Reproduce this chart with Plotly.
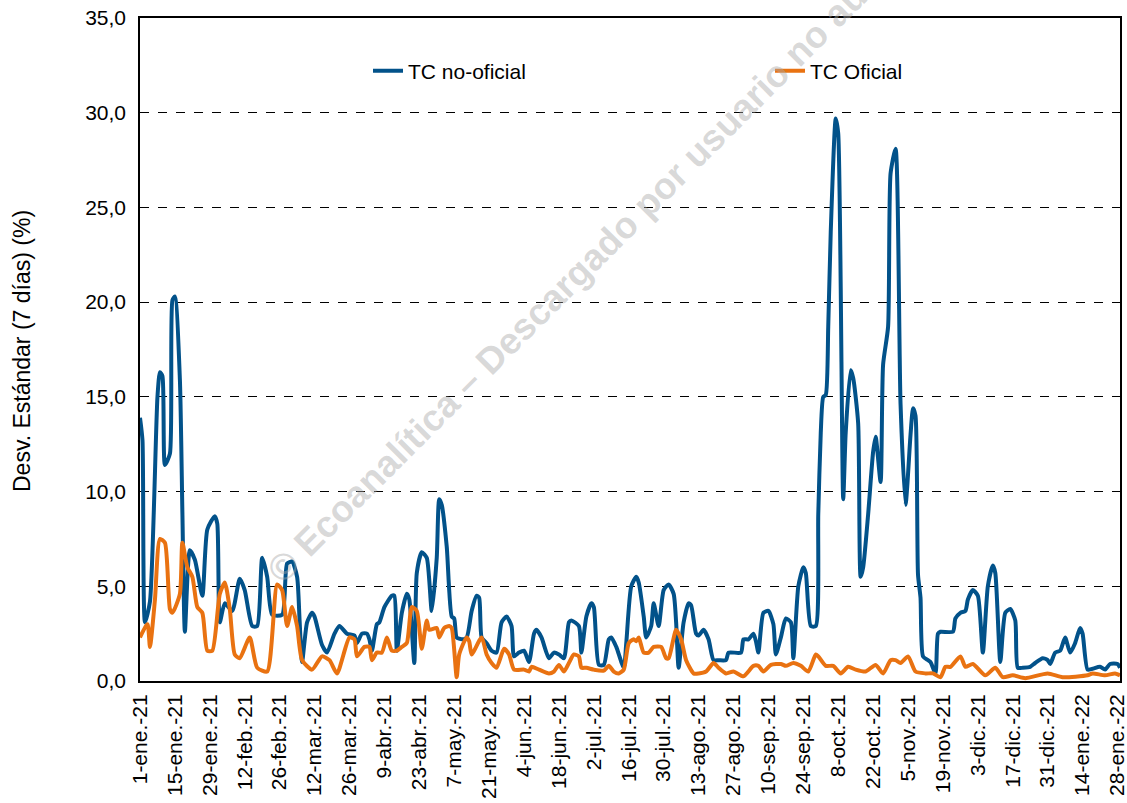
import pandas as pd
import plotly.graph_objects as go

# ---- data (days since 1-ene-2021, values in %) ----
blue_day = [0, 1, 2, 4, 7, 8, 9, 10, 12, 13, 14, 16, 17, 18, 20, 22, 25, 27, 30, 31, 32, 34, 37, 40, 42, 45, 47,
            49, 51, 53, 57, 59, 61, 63, 64, 65, 67, 69, 70, 73, 75, 78, 80, 83, 86, 87, 89, 91, 92, 93, 95, 96, 98,
            101, 102, 103, 105, 107, 108, 110, 111, 113, 115, 117, 119, 120, 121, 123, 125, 126, 127, 129, 131, 133,
            135, 136, 137, 139, 141, 143, 145, 147, 149, 150, 152, 154, 156, 158, 159, 161, 164, 166, 168, 170, 172,
            173, 176, 177, 179, 181, 182, 184, 186, 188, 189, 191, 194, 195, 197, 199, 200, 202, 203, 205, 206, 208,
            210, 212, 214, 215, 216, 218, 220, 221, 223, 224, 226, 228, 230, 232, 235, 236, 241, 242, 244, 246, 247,
            248, 250, 252, 254, 255, 257, 259, 261, 262, 264, 266, 267, 269, 271, 272, 273, 274, 275, 276, 277, 279,
            280, 282, 283, 285, 286, 288, 289, 290, 292, 294, 295, 297, 298, 300, 301, 303, 305, 307, 309, 310, 311,
            312, 313, 314, 316, 317, 319, 320, 321, 326, 327, 329, 331, 332, 334, 336, 338, 340, 342, 343, 345, 347,
            349, 351, 352, 354, 357, 359, 362, 364, 365, 367, 369, 371, 373, 375, 377, 378, 380, 382, 385, 387, 389,
            392, 393]
blue_val = [13.9, 12.7, 3.1, 4.2, 15.0, 16.3, 16.1, 11.4, 12.0, 20.1, 20.3, 15.9, 8.9, 2.6, 6.9, 6.4, 4.5, 8.0, 8.7,
            8.3, 3.1, 4.1, 3.7, 5.4, 4.8, 2.9, 2.9, 6.5, 5.5, 3.5, 3.5, 6.2, 6.3, 5.5, 3.2, 1.0, 3.1, 3.6, 3.4, 1.9,
            1.5, 2.5, 2.9, 2.5, 2.4, 2.0, 2.5, 2.5, 2.2, 1.6, 3.0, 3.1, 3.9, 4.5, 4.5, 1.6, 3.6, 4.6, 4.3, 0.95, 5.7,
            6.8, 6.5, 3.7, 6.5, 9.6, 9.3, 7.1, 3.4, 3.3, 2.3, 2.2, 2.3, 3.7, 4.5, 4.4, 2.3, 2.0, 1.6, 1.5, 3.1, 3.4,
            2.9, 1.3, 1.5, 1.6, 1.0, 2.5, 2.7, 2.3, 1.2, 1.5, 1.4, 1.2, 3.1, 3.2, 2.9, 1.5, 3.4, 4.1, 3.9, 0.85, 0.85,
            2.2, 2.3, 1.8, 0.7, 2.0, 5.0, 5.5, 5.2, 3.4, 2.3, 2.9, 4.1, 2.9, 4.8, 5.1, 4.6, 3.1, 0.7, 3.1, 4.1, 4.0,
            2.5, 2.4, 2.7, 2.2, 1.1, 1.1, 1.1, 1.5, 1.5, 2.2, 2.2, 2.5, 2.1, 1.5, 3.6, 3.7, 3.0, 1.4, 2.3, 3.3, 3.1,
            1.2, 5.0, 6.0, 5.7, 2.9, 2.9, 8.8, 13.1, 15.0, 15.1, 18.7, 23.7, 29.7, 28.9, 9.6, 13.1, 16.4, 16.0, 13.6,
            5.5, 6.0, 8.8, 12.1, 12.9, 10.5, 16.7, 18.7, 26.8, 28.1, 14.6, 9.3, 13.0, 14.4, 14.0, 5.6, 4.4, 1.3, 1.1,
            1.0, 0.4, 2.5, 2.6, 2.6, 3.3, 3.6, 3.7, 4.3, 4.8, 4.5, 1.5, 5.0, 6.1, 5.7, 1.0, 3.6, 3.8, 3.2, 0.7, 0.7,
            0.75, 0.95, 1.2, 1.1, 0.9, 1.5, 1.6, 2.3, 1.5, 2.0, 2.8, 2.5, 0.6, 0.65, 0.75, 0.6, 0.9, 0.9, 0.7]

orange_day = [0, 3, 4, 6, 8, 10, 12, 13, 16, 17, 19, 21, 23, 25, 27, 29, 32, 34, 36, 38, 40, 44, 47, 51, 55, 57, 59,
              61, 63, 65, 69, 73, 76, 79, 84, 86, 87, 90, 92, 93, 95, 97, 99, 101, 103, 105, 107, 109, 111, 113, 115,
              116, 119, 120, 122, 124, 125, 127, 128, 131, 132, 133, 137, 139, 141, 143, 146, 148, 150, 154, 156,
              157, 160, 164, 166, 168, 170, 172, 174, 176, 177, 179, 182, 186, 188, 190, 192, 194, 196, 198, 199,
              200, 202, 204, 206, 209, 211, 212, 215, 217, 219, 222, 224, 227, 230, 232, 235, 238, 242, 246, 248,
              250, 253, 257, 259, 262, 265, 268, 271, 272, 275, 278, 281, 284, 287, 291, 295, 298, 301, 303, 305,
              308, 311, 315, 318, 321, 323, 325, 329, 331, 334, 339, 343, 346, 350, 355, 364, 370, 380, 382, 387,
              391, 393]
orange_val = [2.3, 3.0, 1.8, 4.3, 7.5, 7.3, 3.8, 3.6, 4.6, 7.3, 6.0, 5.5, 3.9, 3.6, 1.6, 1.6, 4.6, 5.2, 3.8, 1.4,
              1.2, 2.3, 0.7, 0.5, 5.1, 4.8, 2.9, 3.9, 2.9, 1.1, 0.6, 1.3, 1.1, 0.4, 2.3, 2.2, 1.3, 1.8, 1.8, 1.1, 1.5,
              1.5, 2.3, 1.6, 1.6, 1.8, 2.0, 3.9, 3.7, 1.7, 3.2, 2.7, 2.8, 2.3, 2.8, 2.9, 2.8, 0.2, 1.4, 2.3, 2.1, 1.4,
              2.3, 1.4, 0.95, 0.7, 1.7, 1.4, 0.6, 0.6, 0.5, 0.75, 0.6, 0.4, 0.5, 0.85, 0.5, 0.95, 1.4, 1.3, 0.7, 0.7,
              0.6, 0.55, 0.8, 0.5, 0.4, 0.6, 2.0, 2.2, 2.1, 2.3, 1.5, 1.5, 1.8, 1.8, 1.2, 1.2, 2.7, 2.2, 1.1, 0.4,
              0.4, 0.5, 0.95, 0.7, 0.4, 0.5, 0.25, 0.8, 0.8, 0.5, 0.85, 0.9, 0.8, 0.95, 0.8, 0.5, 1.4, 1.3, 0.8, 0.8,
              0.4, 0.75, 0.6, 0.5, 0.85, 0.4, 1.1, 1.1, 0.95, 1.3, 0.5, 0.4, 0.4, 0.2, 0.75, 0.75, 1.3, 0.75, 0.9,
              0.3, 0.7, 0.2, 0.3, 0.15, 0.4, 0.2, 0.3, 0.4, 0.3, 0.4, 0.3]

tick_days = list(range(0, 393, 14))
tick_labels = ["1-ene.-21", "15-ene.-21", "29-ene.-21", "12-feb.-21", "26-feb.-21", "12-mar.-21", "26-mar.-21",
               "9-abr.-21", "23-abr.-21", "7-may.-21", "21-may.-21", "4-jun.-21", "18-jun.-21", "2-jul.-21",
               "16-jul.-21", "30-jul.-21", "13-ago.-21", "27-ago.-21", "10-sep.-21", "24-sep.-21", "8-oct.-21",
               "22-oct.-21", "5-nov.-21", "19-nov.-21", "3-dic.-21", "17-dic.-21", "31-dic.-21", "14-ene.-22",
               "28-ene.-22"]
y_ticks = [0, 5, 10, 15, 20, 25, 30, 35]
y_labels = ["0,0", "5,0", "10,0", "15,0", "20,0", "25,0", "30,0", "35,0"]

base = pd.Timestamp("2021-01-01")
to_date = lambda days: [base + pd.Timedelta(days=d) for d in days]

FONT = "Liberation Sans, Arial, sans-serif"
FS = 21
fig = go.Figure()
fig.add_trace(go.Scatter(x=to_date(blue_day), y=blue_val, mode="lines", name="TC no-oficial",
                         line=dict(color="#02528A", width=4, shape="spline", smoothing=0.6), legend="legend"))
fig.add_trace(go.Scatter(x=to_date(orange_day), y=orange_val, mode="lines", name="TC Oficial",
                         line=dict(color="#E97211", width=4, shape="spline", smoothing=0.6), legend="legend2"))

fig.update_layout(
    width=1127, height=803,
    margin=dict(l=140, r=7, t=18, b=122, autoexpand=False),
    paper_bgcolor="white", plot_bgcolor="white",
    font=dict(family=FONT, size=FS, color="black"),
    showlegend=True,
    legend=dict(x=(368 - 140) / 980, y=(681 - 71) / 663, xanchor="left", yanchor="middle",
                bgcolor="rgba(0,0,0,0)", font=dict(size=FS)),
    legend2=dict(x=(770 - 140) / 980, y=(681 - 71) / 663, xanchor="left", yanchor="middle",
                 bgcolor="rgba(0,0,0,0)", font=dict(size=FS)),
)
fig.update_xaxes(
    range=[base, base + pd.Timedelta(days=393)], automargin=False,
    tickvals=to_date(tick_days), ticktext=tick_labels, tickangle=-90,
    showgrid=False, showline=True, linecolor="black", linewidth=2, mirror=True,
    ticks="", tickfont=dict(size=FS), ticklabelstandoff=3, ticklabeloverflow="allow",
)
fig.update_yaxes(
    range=[0, 35], tickvals=y_ticks, ticktext=y_labels, automargin=False,
    showgrid=True, gridcolor="black", gridwidth=1.2, griddash="dash",
    showline=True, linecolor="black", linewidth=1.5, mirror=True,
    ticks="", tickfont=dict(size=FS), ticklabelstandoff=8, zeroline=False,
)
fig.add_annotation(text="Desv. Estándar (7 días) (%)", xref="paper", yref="paper",
                   x=(22 - 140) / 980, y=(681 - 351) / 663, textangle=-90, showarrow=False,
                   font=dict(size=23, family=FONT), xanchor="center", yanchor="middle")
fig.add_annotation(text="© Ecoanalítica – Descargado por usuario no autorizado", xref="paper", yref="paper",
                   x=(618 - 140) / 980, y=(681 - 233) / 663, textangle=-45, showarrow=False,
                   font=dict(size=37, family=FONT, color="rgba(170,170,170,0.45)", weight="bold"),
                   xanchor="center", yanchor="middle")

fig.write_html("out.html", config={"displayModeBar": False},
               post_script="document.body.style.margin='0';")
